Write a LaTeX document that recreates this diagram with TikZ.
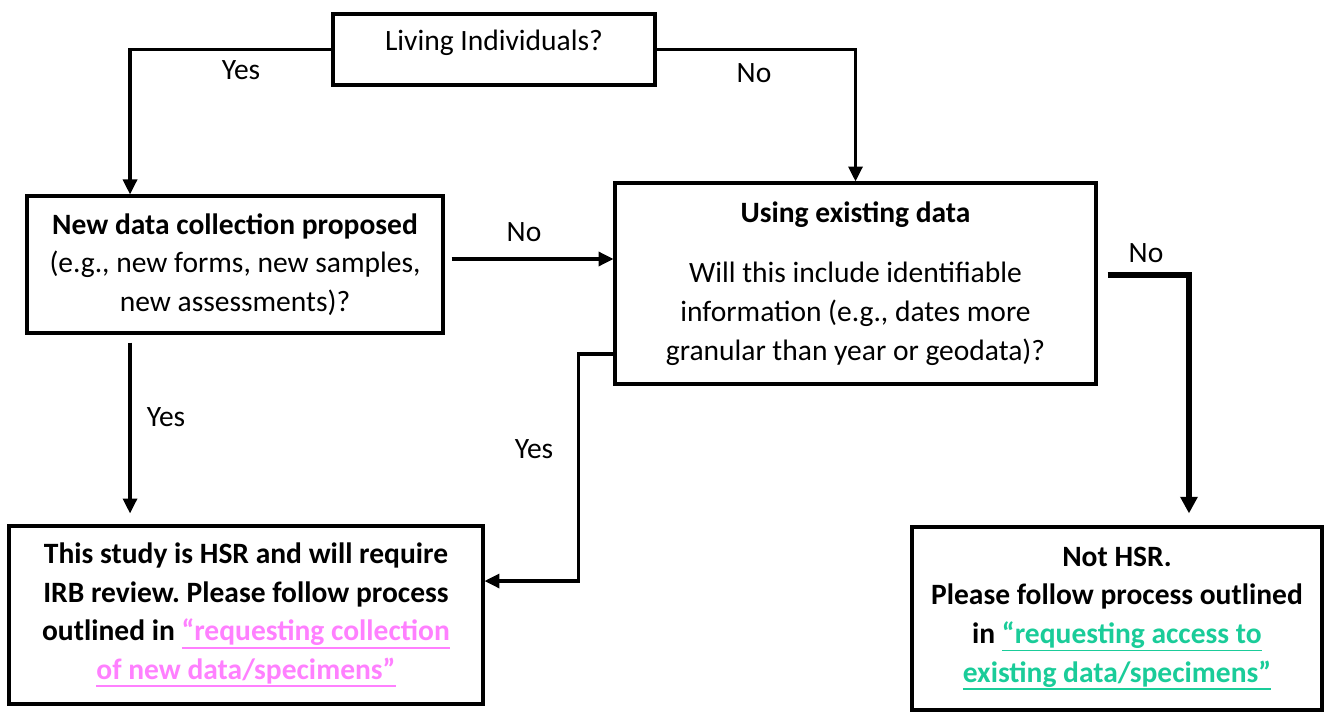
\documentclass[tikz,border=0pt]{standalone}
\usepackage{fontspec}
\setmainfont{Carlito}
\usepackage{tikz}
\usetikzlibrary{arrows.meta,positioning}

\definecolor{pinklink}{RGB}{255,128,255}
\definecolor{greenlink}{RGB}{26,204,153}
\newsavebox{\linkbox}
\newcommand{\linktext}[2]{{\color{#1}\sbox{\linkbox}{#2}\rlap{\rule[-4.5pt]{\wd\linkbox}{1.1pt}}\usebox{\linkbox}}}

\tikzset{
  box/.style = {draw, line width = 1.8pt, align = center, inner sep = 0pt},
  flow/.style = {line width = 1.8pt, -{Triangle[length = 8.5pt, width = 8pt]}},
  bigflow/.style = {line width = 3.4pt, -{Triangle[length = 9.5pt, width = 9.5pt]}},
  ans/.style = {inner sep = 0pt},
}

\begin{document}
\frenchspacing
\begin{tikzpicture}[x = 0.02cm, y = -0.02cm, font = \fontsize{16.8}{22}\selectfont]
    \useasboundingbox (0, 0) rectangle (1326, 713);

    % boxes
    \node (living) at (494, 49.5) [box, minimum width = 6.44cm, minimum height = 1.42cm]
      {\raisebox{3.5pt}[0.7em][0.2em]{Living Individuals?}};
    \node (newdata) at (235, 264.5) [box, minimum width = 8.32cm, minimum height = 2.74cm]
      {\textbf{New data collection proposed}\\ (e.g., new forms, new samples,\\ new assessments)?};
    \node (using) at (855.5, 283.5) [box, minimum width = 9.62cm, minimum height = 4.02cm]
      {\textbf{Using existing data}\\[12.5pt] Will this include identifiable\\ information (e.g., dates more\\ granular than year or geodata)?};
    \node (hsr) at (246, 615) [box, minimum width = 9.48cm, minimum height = 3.56cm, font = \fontsize{16.8}{22}\selectfont\bfseries]
      {This study is HSR and will require\\ IRB review. Please follow process\\
       outlined in \linktext{pinklink}{“requesting collection}\\
       \linktext{pinklink}{of new data/specimens”}};
    \node (nothsr) at (1117, 618.5) [box, minimum width = 8.2cm, minimum height = 3.66cm, font = \fontsize{16.8}{22}\selectfont\bfseries]
      {Not HSR.\\ Please follow process outlined\\
       in \linktext{greenlink}{“requesting access to}\\
       \linktext{greenlink}{existing data/specimens”}};

    % connectors
    \draw [flow] (living.west) -| ([xshift = -2.1cm]newdata.north);
    \draw [flow] (living.east) -| (using.north);
    \draw [flow, shorten <= 0.14cm] ([yshift = 0.11cm]newdata.east) -- ([yshift = 0.11cm]newdata.east -| using.west);
    \draw [flow, shorten <= 0.16cm, shorten >= 0.22cm] ([xshift = -2.1cm]newdata.south) -- ([xshift = -2.1cm]newdata.south |- hsr.north);
    \draw [flow] ([yshift = -1.41cm]using.west) -- ++(-35, 0) |- ([yshift = 0.68cm]hsr.east);
    \draw [bigflow, shorten <= 0.2cm, shorten >= 0.24cm] ([yshift = 0.17cm]using.east) -| ([xshift = 1.44cm]nothsr.north);

    % answers
    \node (yes1) at (241, 70) [ans] {Yes};
    \node (no1) at (754, 73) [ans] {No};
    \node (no2) at (524, 232) [ans] {No};
    \node (yes2) at (166, 417) [ans] {Yes};
    \node (yes3) at (534, 449) [ans] {Yes};
    \node (no3) at (1146, 253) [ans] {No};
  \end{tikzpicture}
\end{document}
